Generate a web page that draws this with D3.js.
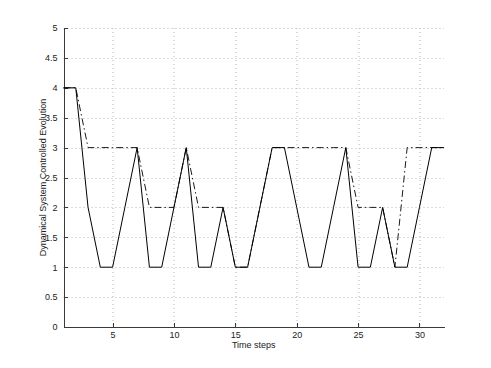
<!DOCTYPE html>
<head>
  <meta charset="utf-8">
  <script src="https://d3js.org/d3.v7.min.js"></script>
  <style>
    body { margin: 0; background: #fff; }
    svg { display: block; font-family: "Liberation Sans", Arial, sans-serif; }
    .grid line { stroke: #b8b8b8; stroke-width: 1; stroke-dasharray: 1,3; }
    .axis path, .axis line { stroke: #3a3a3a; shape-rendering: crispEdges; }
    .axis text { fill: #222; font-size: 9px; }
    .label { fill: #222; font-size: 9px; }
  </style>
</head>
<body>
  <div id="vis"></div>
  <script>
    // time steps 1..32
    var steps = d3.range(1, 33);
    // solid line: actual evolution
    var evolution = [4, 4, 2, 1, 1, 2, 3, 1, 1, 2, 3, 1, 1, 2, 1, 1,
                     2, 3, 3, 2, 1, 1, 2, 3, 1, 1, 2, 1, 1, 2, 3, 3];
    // dash-dot line: controlled level
    var controlled = [4, 4, 3, 3, 3, 3, 3, 2, 2, 2, 3, 2, 2, 2, 1, 1,
                      2, 3, 3, 3, 3, 3, 3, 3, 2, 2, 2, 1, 3, 3, 3, 3];
    var xTicks = [5, 10, 15, 20, 25, 30];
    var yTicks = [0, 0.5, 1, 1.5, 2, 2.5, 3, 3.5, 4, 4.5, 5];

    var W = 491, H = 368;
    var margin = { top: 28, right: 47, bottom: 41, left: 63.5 },
      width = W - margin.left - margin.right,
      height = H - margin.top - margin.bottom;

    var svg = d3.select("#vis").append("svg")
      .attr("width", W)
      .attr("height", H);

    var g = svg.append("g")
      .attr("transform", "translate(" + margin.left + "," + margin.top + ")");

    var x = d3.scaleLinear().domain([1, 32]).range([0, width]);
    var y = d3.scaleLinear().domain([0, 5]).range([height, 0]);

    ////////// grid //////////
    var grid = g.append("g").attr("class", "grid");
    grid.selectAll(".gx").data(xTicks).enter().append("line")
      .attr("x1", function (d) { return Math.round(x(d)) + 0.5; })
      .attr("x2", function (d) { return Math.round(x(d)) + 0.5; })
      .attr("y1", 0).attr("y2", height);
    grid.selectAll(".gy").data(yTicks.filter(function (d) { return d > 0; })).enter().append("line")
      .attr("y1", function (d) { return Math.round(y(d)) + 0.5; })
      .attr("y2", function (d) { return Math.round(y(d)) + 0.5; })
      .attr("x1", 0).attr("x2", width);

    ////////// axes (ticks inward, box off) //////////
    g.append("g")
      .attr("class", "axis")
      .attr("transform", "translate(0," + height + ")")
      .call(d3.axisBottom(x).tickValues(xTicks).tickSizeInner(-4).tickSizeOuter(0).tickPadding(5))
      .call(function (s) { s.selectAll("text").attr("dy", "0.71em"); });

    g.append("g")
      .attr("class", "axis")
      .call(d3.axisLeft(y).tickValues(yTicks).tickSizeInner(-4).tickSizeOuter(0).tickPadding(6)
        .tickFormat(d3.format("")));

    g.selectAll(".axis text").attr("fill", "#222").style("font-size", "9px");
    g.selectAll(".axis .domain").attr("stroke", "#3a3a3a");

    ////////// lines //////////
    var line = d3.line()
      .x(function (d) { return x(d[0]); })
      .y(function (d) { return y(d[1]); });

    g.append("path")
      .datum(steps.map(function (s, i) { return [s, controlled[i]]; }))
      .attr("fill", "none")
      .attr("stroke", "#000")
      .attr("stroke-width", 0.9)
      .attr("stroke-dasharray", "7,3,1.5,3")
      .attr("d", line);

    g.append("path")
      .datum(steps.map(function (s, i) { return [s, evolution[i]]; }))
      .attr("fill", "none")
      .attr("stroke", "#000")
      .attr("stroke-width", 1)
      .attr("d", line);

    ////////// labels //////////
    g.append("text")
      .attr("class", "label")
      .attr("text-anchor", "middle")
      .attr("x", width / 2)
      .attr("y", height + 21)
      .text("Time steps");

    g.append("text")
      .attr("class", "label")
      .attr("text-anchor", "middle")
      .attr("transform", "translate(" + (-18) + "," + (height / 2) + ") rotate(-90)")
      .text("Dynamical System Controlled Evolution");
  </script>
</body>
